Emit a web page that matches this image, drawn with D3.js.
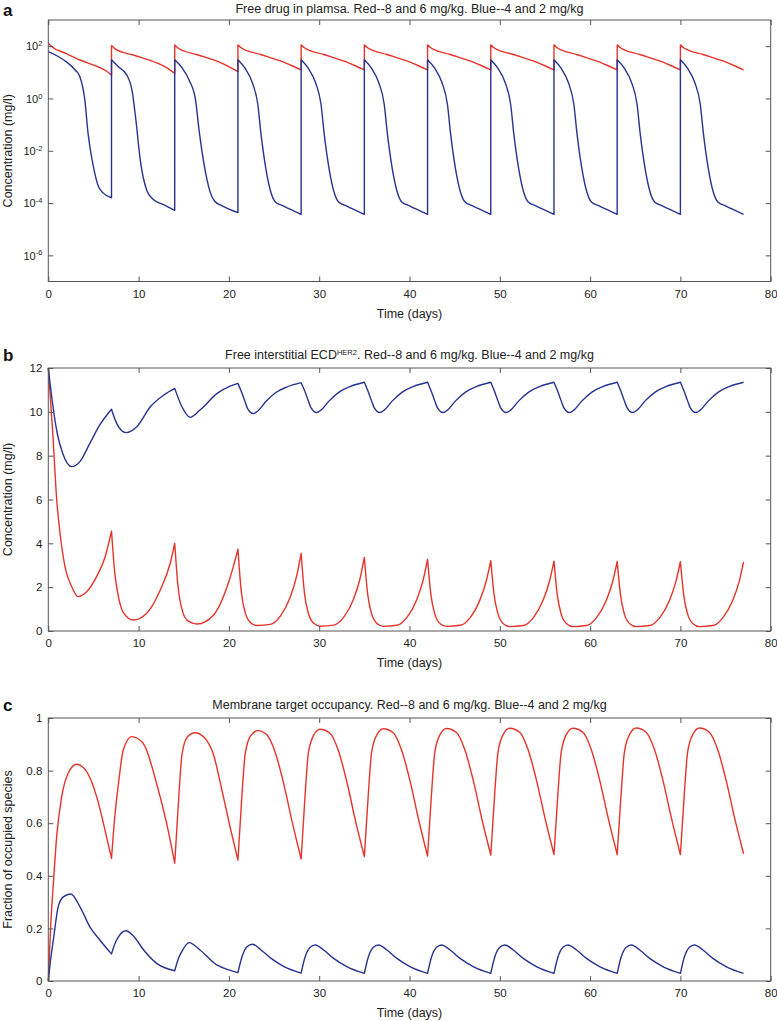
<!DOCTYPE html>
<html lang="en">
<head>
<meta charset="UTF-8">
<script src="https://d3js.org/d3.v7.min.js"></script>
<style>
  html, body { margin: 0; padding: 0; background: #fff; }
  svg { display: block; font-family: 'Liberation Sans', Arial, sans-serif; }
  .title { font-size: 12.5px; fill: #222; text-anchor: middle; }
  .panel-letter { font-size: 17px; font-weight: bold; fill: #111; }
  .axis-label { font-size: 12.5px; fill: #222; text-anchor: middle; }
  .axis text { font-size: 11.5px; fill: #222; font-family: 'Liberation Sans', Arial, sans-serif; }
  .axis line { stroke: #555; }
  .frame { fill: none; stroke: #555; stroke-width: 1; }
  .curve { fill: none; stroke-width: 1.4; stroke-linejoin: round; }
</style>
</head>
<body>
<div id="chart"></div>
<script>

// dosing schedule and shared axis
var doseDays = [0, 7, 14, 21, 28, 35, 42, 49, 56, 63, 70];
var xTicks = [0, 10, 20, 30, 40, 50, 60, 70, 80];

// panel a: free drug in plasma (mg/l, log scale)
var plasmaTicks = [1e2, 1, 1e-2, 1e-4, 1e-6];
var plasmaTickExp = ['2', '0', '-2', '-4', '-6'];

var plasmaRed = [
  [0,130],[0.4,95],[2,52],[3.5,29.5],[5.5,16.2],[6.5,10.7],[7,7.8],
  [7,105],[7.4,79],[9.5,45],[12,23],[13,15.8],[14,9.1],
  [14,110],[14.4,83],[16.5,47],[19,24],[20,16.6],[21,10.5],
  [21,112],[21.4,85],[23.5,48],[26,25],[27,17.8],[28,12.3],
  [28,112],[28.4,85],[30.5,48],[33,25],[34,17.8],[35,12.3],
  [35,112],[35.4,85],[37.5,48],[40,25],[41,17.8],[42,12.3],
  [42,112],[42.4,85],[44.5,48],[47,25],[48,17.8],[49,12.3],
  [49,112],[49.4,85],[51.5,48],[54,25],[55,17.8],[56,12.3],
  [56,112],[56.4,85],[58.5,48],[61,25],[62,17.8],[63,12.3],
  [63,112],[63.4,85],[65.5,48],[68,25],[69,17.8],[70,12.3],
  [70,112],[70.4,85],[72.5,48],[75,25],[76,17.8],[77,12.3]
];

var plasmaBlue = [
  [0,62],[1,42],[2,25],[3,12],[3.5,6.8],[4.05,0.85],[4.4,0.047],[5,2.4e-3],[5.5,4.8e-4],[6.1,2.4e-4],[7,1.6e-4],
  [7,30],[7.8,16],[8.7,7.8],[9.3,1.8],[9.7,0.15],[10.2,4e-3],[10.9,3.1e-4],[11.6,1.4e-4],[12.7,8.9e-5],[14,5.2e-5],
  [14,30],[14.8,15],[15.6,5],[16.3,0.9],[16.7,0.06],[17.3,2.4e-3],[17.9,2.8e-4],[18.4,1.2e-4],[19.2,8e-5],[21,4.3e-5],
  [21,30],[21.8,14],[22.6,4],[23.2,0.6],[23.55,0.045],[24.1,2e-3],[24.65,2.6e-4],[25.15,1.1e-4],[26,7.8e-5],[28,3.7e-5],
  [28,30],[28.8,14],[29.6,4],[30.2,0.6],[30.55,0.045],[31.1,2e-3],[31.65,2.6e-4],[32.15,1.1e-4],[33,7.8e-5],[35,3.7e-5],
  [35,30],[35.8,14],[36.6,4],[37.2,0.6],[37.55,0.045],[38.1,2e-3],[38.65,2.6e-4],[39.15,1.1e-4],[40,7.8e-5],[42,3.7e-5],
  [42,30],[42.8,14],[43.6,4],[44.2,0.6],[44.55,0.045],[45.1,2e-3],[45.65,2.6e-4],[46.15,1.1e-4],[47,7.8e-5],[49,3.7e-5],
  [49,30],[49.8,14],[50.6,4],[51.2,0.6],[51.55,0.045],[52.1,2e-3],[52.65,2.6e-4],[53.15,1.1e-4],[54,7.8e-5],[56,3.7e-5],
  [56,30],[56.8,14],[57.6,4],[58.2,0.6],[58.55,0.045],[59.1,2e-3],[59.65,2.6e-4],[60.15,1.1e-4],[61,7.8e-5],[63,3.7e-5],
  [63,30],[63.8,14],[64.6,4],[65.2,0.6],[65.55,0.045],[66.1,2e-3],[66.65,2.6e-4],[67.15,1.1e-4],[68,7.8e-5],[70,3.7e-5],
  [70,30],[70.8,14],[71.6,4],[72.2,0.6],[72.55,0.045],[73.1,2e-3],[73.65,2.6e-4],[74.15,1.1e-4],[75,7.8e-5],[77,3.7e-5]
];

// panel b: free interstitial ECD (mg/l)
var ecdTicks = [0, 2, 4, 6, 8, 10, 12];
var ecdTickLabels = ['0', '2', '4', '6', '8', '10', '12'];

var ecdRed = [
  [0,12],[0.5,9.0],[0.93,6],[1.3,4.46],[1.85,2.93],[2.6,2.02],[3.3,1.57],[4.25,1.79],[5.35,2.48],[6.3,3.39],[7,4.56],
  [7.35,2.7],[7.8,1.5],[8.3,0.85],[9.4,0.5],[10.9,0.81],[12.4,1.87],[13.5,3.09],[14,4.0],
  [14.35,2.1],[14.9,0.85],[15.5,0.45],[16.5,0.32],[18.3,0.73],[19.8,2.02],[20.5,2.95],[21,3.73],
  [21.37,1.8],[21.8,0.85],[22.4,0.38],[23.1,0.25],[24.6,0.3],[25.7,0.68],[26.8,1.55],[27.5,2.5],[28,3.54],
  [28.37,1.72],[28.8,0.81],[29.4,0.35],[30.1,0.22],[31.6,0.27],[32.7,0.62],[33.8,1.45],[34.5,2.35],[35,3.36],
  [35.37,1.68],[35.8,0.79],[36.4,0.34],[37.1,0.21],[38.6,0.26],[39.7,0.61],[40.8,1.43],[41.5,2.31],[42,3.27],
  [42.37,1.66],[42.8,0.78],[43.4,0.33],[44.1,0.21],[45.6,0.26],[46.7,0.6],[47.8,1.42],[48.5,2.28],[49,3.21],
  [49.37,1.65],[49.8,0.78],[50.4,0.33],[51.1,0.2],[52.6,0.25],[53.7,0.6],[54.8,1.41],[55.5,2.27],[56,3.19],
  [56.37,1.64],[56.8,0.77],[57.4,0.33],[58.1,0.2],[59.6,0.25],[60.7,0.6],[61.8,1.4],[62.5,2.26],[63,3.17],
  [63.37,1.64],[63.8,0.77],[64.4,0.33],[65.1,0.2],[66.6,0.25],[67.7,0.6],[68.8,1.4],[69.5,2.25],[70,3.16],
  [70.37,1.63],[70.8,0.77],[71.4,0.33],[72.1,0.2],[73.6,0.25],[74.7,0.6],[75.8,1.4],[76.5,2.24],[77,3.15]
];

var ecdBlue = [
  [0,12],[0.5,10.3],[1,9.0],[1.6,8.1],[2.6,7.5],[3.5,7.73],[4.6,8.56],[5.7,9.4],[7,10.12],
  [7.6,9.45],[8.6,9.05],[9.8,9.32],[11.3,10.23],[12.8,10.77],[14,11.07],
  [14.8,10.23],[15.7,9.75],[16.8,10.08],[18.7,10.84],[20.2,11.18],[21,11.3],
  [21.4,10.9],[21.8,10.45],[22.1,10.12],[22.7,9.92],[23.2,10.04],[24.1,10.47],[25.2,10.88],[26.4,11.13],[28,11.33],
  [28.4,10.95],[28.8,10.5],[29.1,10.18],[29.7,9.97],[30.2,10.08],[31.1,10.5],[32.2,10.9],[33.4,11.15],[35,11.35],
  [35.4,10.95],[35.8,10.5],[36.1,10.18],[36.7,9.97],[37.2,10.08],[38.1,10.5],[39.2,10.9],[40.4,11.15],[42,11.35],
  [42.4,10.95],[42.8,10.5],[43.1,10.18],[43.7,9.97],[44.2,10.08],[45.1,10.5],[46.2,10.9],[47.4,11.15],[49,11.35],
  [49.4,10.95],[49.8,10.5],[50.1,10.18],[50.7,9.97],[51.2,10.08],[52.1,10.5],[53.2,10.9],[54.4,11.15],[56,11.35],
  [56.4,10.95],[56.8,10.5],[57.1,10.18],[57.7,9.97],[58.2,10.08],[59.1,10.5],[60.2,10.9],[61.4,11.15],[63,11.35],
  [63.4,10.95],[63.8,10.5],[64.1,10.18],[64.7,9.97],[65.2,10.08],[66.1,10.5],[67.2,10.9],[68.4,11.15],[70,11.35],
  [70.4,10.95],[70.8,10.5],[71.1,10.18],[71.7,9.97],[72.2,10.08],[73.1,10.5],[74.2,10.9],[75.4,11.15],[77,11.35]
];

// panel c: membrane target occupancy (fraction)
var occTicks = [0, 0.2, 0.4, 0.6, 0.8, 1];
var occTickLabels = ['0', '0.2', '0.4', '0.6', '0.8', '1'];

var occRed = [
  [0,0],[0.25,0.2],[0.56,0.37],[0.93,0.55],[1.48,0.70],[2.2,0.79],[3.14,0.824],[4.25,0.796],[5.36,0.70],[6.28,0.574],[7,0.466],
  [7.35,0.62],[7.77,0.75],[8.3,0.878],[9.24,0.929],[10.5,0.904],[12,0.75],[13.1,0.6],[14,0.448],
  [14.45,0.7],[14.8,0.86],[15.4,0.928],[16.25,0.944],[17.3,0.925],[18.3,0.86],[19.2,0.73],[20.1,0.59],[21,0.46],
  [21.45,0.71],[21.8,0.862],[22.4,0.932],[23.2,0.952],[24.2,0.936],[25.1,0.872],[26.1,0.746],[27,0.606],[28,0.464],
  [28.45,0.714],[28.8,0.866],[29.4,0.935],[30.1,0.957],[31.2,0.942],[32.1,0.878],[33.1,0.752],[34,0.612],[35,0.473],
  [35.45,0.716],[35.8,0.868],[36.4,0.937],[37.1,0.959],[38.2,0.944],[39.1,0.88],[40.1,0.755],[41,0.615],[42,0.475],
  [42.45,0.718],[42.8,0.869],[43.4,0.938],[44.1,0.96],[45.2,0.945],[46.1,0.882],[47.1,0.757],[48,0.618],[49,0.479],
  [49.45,0.72],[49.8,0.87],[50.4,0.939],[51.1,0.961],[52.2,0.946],[53.1,0.883],[54.1,0.758],[55,0.62],[56,0.481],
  [56.45,0.72],[56.8,0.87],[57.4,0.939],[58.1,0.961],[59.2,0.946],[60.1,0.883],[61.1,0.758],[62,0.62],[63,0.481],
  [63.45,0.72],[63.8,0.87],[64.4,0.939],[65.1,0.962],[66.2,0.946],[67.1,0.883],[68.1,0.758],[69,0.62],[70,0.481],
  [70.45,0.72],[70.8,0.87],[71.4,0.939],[72.1,0.962],[73.2,0.946],[74.1,0.883],[75.1,0.758],[76,0.62],[77,0.484]
];

var occBlue = [
  [0,0],[0.25,0.08],[0.56,0.156],[1.1,0.283],[1.66,0.32],[2.48,0.331],[3.5,0.283],[4.6,0.206],[5.7,0.156],[7,0.103],
  [7.35,0.14],[7.77,0.168],[8.6,0.191],[9.4,0.172],[10.56,0.118],[12,0.067],[14,0.039],
  [14.4,0.085],[14.77,0.111],[15.6,0.146],[16.8,0.118],[18.66,0.061],[20,0.042],[21,0.032],
  [21.45,0.092],[22,0.13],[22.6,0.14],[23.5,0.12],[24.6,0.088],[26.1,0.055],[28,0.03],
  [28.45,0.092],[29,0.128],[29.55,0.137],[30.5,0.118],[31.6,0.086],[33.1,0.054],[35,0.029],
  [35.45,0.092],[36,0.128],[36.55,0.137],[37.5,0.118],[38.6,0.086],[40.1,0.054],[42,0.029],
  [42.45,0.092],[43,0.128],[43.55,0.137],[44.5,0.118],[45.6,0.086],[47.1,0.054],[49,0.029],
  [49.45,0.092],[50,0.128],[50.55,0.137],[51.5,0.118],[52.6,0.086],[54.1,0.054],[56,0.029],
  [56.45,0.092],[57,0.128],[57.55,0.137],[58.5,0.118],[59.6,0.086],[61.1,0.054],[63,0.029],
  [63.45,0.092],[64,0.128],[64.55,0.137],[65.5,0.118],[66.6,0.086],[68.1,0.054],[70,0.029],
  [70.45,0.092],[71,0.128],[71.55,0.137],[72.5,0.118],[73.6,0.086],[75.1,0.054],[77,0.029]
];

var redColor = '#e5342b',
    blueColor = '#27338f';

/////////////////////////////
//  Layout and scales      //
/////////////////////////////

var width = 777, height = 1021;
var plotLeft = 48.3, plotRight = 770.7;

var svg = d3.select('#chart')
  .append('svg')
  .attr('width', width)
  .attr('height', height);

svg.append('rect')
  .attr('width', width)
  .attr('height', height)
  .attr('fill', '#fff');

var x = d3.scaleLinear().domain([0, 80]).range([plotLeft, plotRight]);

var panels = [
  { letter: 'a', top: 20, bottom: 281.5, letterY: 16, titleY: 12.5,
    y: d3.scaleLog().domain([1e-7, 1e3]),
    ticks: plasmaTicks, labels: plasmaTickExp, log: true,
    title: ['Free drug in plamsa. Red--8 and 6 mg/kg. Blue--4 and 2 mg/kg'],
    ylabel: 'Concentration (mg/l)',
    series: [[plasmaRed, redColor], [plasmaBlue, blueColor]] },
  { letter: 'b', top: 368, bottom: 631, letterY: 361, titleY: 359,
    y: d3.scaleLinear().domain([0, 12]),
    ticks: ecdTicks, labels: ecdTickLabels, log: false,
    title: ['Free interstitial ECD', 'HER2', '. Red--8 and 6 mg/kg. Blue--4 and 2 mg/kg'],
    ylabel: 'Concentration (mg/l)',
    series: [[ecdRed, redColor], [ecdBlue, blueColor]] },
  { letter: 'c', top: 718, bottom: 981, letterY: 711, titleY: 709,
    y: d3.scaleLinear().domain([0, 1]),
    ticks: occTicks, labels: occTickLabels, log: false,
    title: ['Membrane target occupancy. Red--8 and 6 mg/kg. Blue--4 and 2 mg/kg'],
    ylabel: 'Fraction of occupied species',
    series: [[occRed, redColor], [occBlue, blueColor]] }
];

// split a series at the dose days so jumps stay vertical and cusps stay sharp
function seriesPath(pts, y) {
  var line = d3.line()
    .x(function(d) { return x(d[0]); })
    .y(function(d) { return y(d[1]); })
    .curve(d3.curveMonotoneX);

  var segs = [], cur = [];
  pts.forEach(function(p, i) {
    cur.push(p);
    var next = pts[i + 1];
    if (next && p[0] > 0 && doseDays.indexOf(p[0]) >= 0 && cur.length > 1) {
      segs.push(cur);
      cur = next[0] === p[0] ? [] : [p];
    }
  });
  if (cur.length > 1) segs.push(cur);

  return segs.map(function(s, i) {
    var d = line(s);
    return i ? 'L' + d.slice(1) : d;
  }).join('');
}

function styleAxis(g) {
  g.select('.domain').remove();
  g.attr('font-family', null).attr('font-size', null);
}

panels.forEach(function(p) {
  var y = p.y.range([p.bottom, p.top]);
  var g = svg.append('g');
  var midX = (plotLeft + plotRight) / 2;

  // curves
  p.series.forEach(function(s) {
    g.append('path')
      .attr('class', 'curve')
      .attr('d', seriesPath(s[0], y))
      .style('stroke', s[1]);
  });

  // box
  g.append('rect')
    .attr('class', 'frame')
    .attr('x', plotLeft)
    .attr('y', p.top)
    .attr('width', plotRight - plotLeft)
    .attr('height', p.bottom - p.top);

  // x axes (bottom with labels, top ticks only)
  g.append('g')
    .attr('class', 'axis')
    .attr('transform', 'translate(0,' + p.bottom + ')')
    .call(d3.axisBottom(x).tickValues(xTicks).tickSize(-5).tickPadding(8).tickFormat(d3.format('d')))
    .call(styleAxis);

  g.append('g')
    .attr('class', 'axis')
    .attr('transform', 'translate(0,' + p.top + ')')
    .call(d3.axisTop(x).tickValues(xTicks).tickSize(-5).tickFormat(''))
    .call(styleAxis);

  // y axes (left with labels, right ticks only)
  var left = g.append('g')
    .attr('class', 'axis')
    .attr('transform', 'translate(' + plotLeft + ',0)')
    .call(d3.axisLeft(y).tickValues(p.ticks).tickSize(-5).tickPadding(6)
      .tickFormat(function(d, i) { return p.labels[i]; }))
    .call(styleAxis);

  if (p.log) {
    left.selectAll('.tick text').each(function(d, i) {
      var t = d3.select(this);
      t.text(null);
      t.append('tspan').style('font-size', '11px').text('10');
      t.append('tspan').attr('dy', '-0.55em').style('font-size', '7.5px').text(p.labels[i]);
    });
  }

  g.append('g')
    .attr('class', 'axis')
    .attr('transform', 'translate(' + plotRight + ',0)')
    .call(d3.axisRight(y).tickValues(p.ticks).tickSize(-5).tickFormat(''))
    .call(styleAxis);

  // title
  var title = g.append('text')
    .attr('class', 'title')
    .attr('x', midX)
    .attr('y', p.titleY);
  title.append('tspan').text(p.title[0]);
  if (p.title.length > 1) {
    title.append('tspan').attr('dy', -4.5).style('font-size', '7.5px').text(p.title[1]);
    title.append('tspan').attr('dy', 4.5).text(p.title[2]);
  }

  // panel letter
  g.append('text')
    .attr('class', 'panel-letter')
    .attr('x', 3)
    .attr('y', p.letterY)
    .text(p.letter);

  // axis titles
  g.append('text')
    .attr('class', 'axis-label')
    .attr('x', midX)
    .attr('y', p.bottom + 36)
    .text('Time (days)');

  g.append('text')
    .attr('class', 'axis-label')
    .attr('transform', 'translate(12,' + ((p.top + p.bottom) / 2) + ') rotate(-90)')
    .text(p.ylabel);
});

</script>
</body>
</html>
